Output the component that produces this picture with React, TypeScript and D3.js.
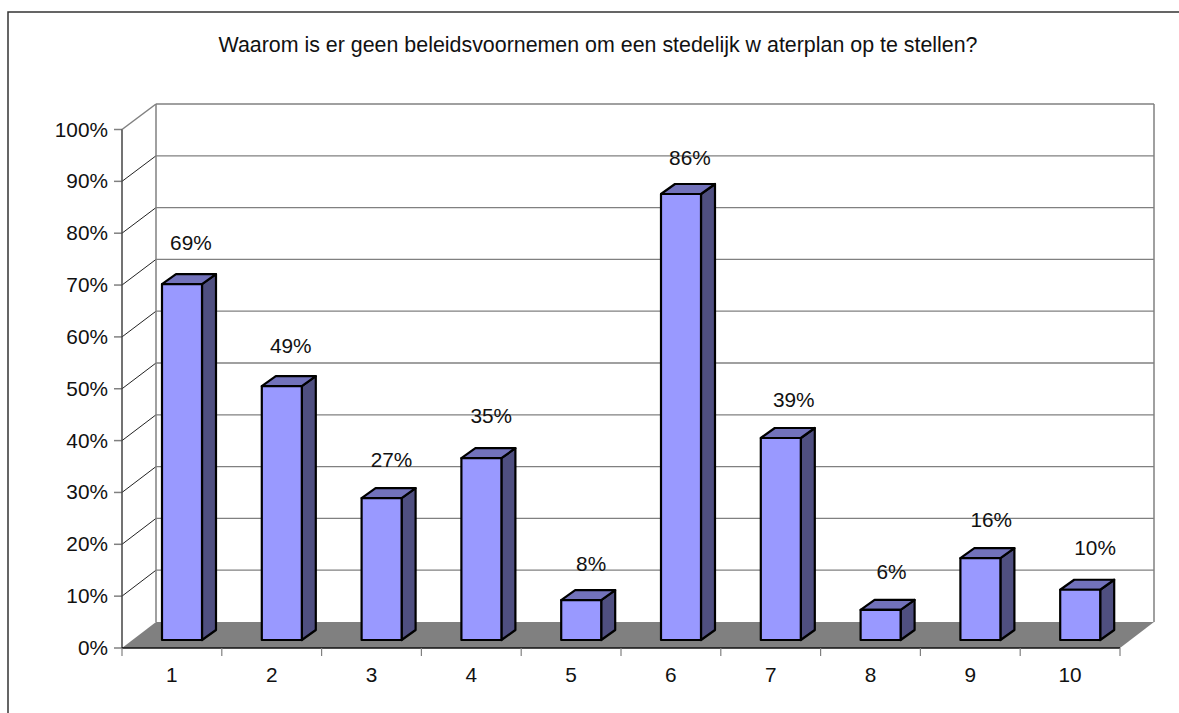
import React from "react";
import * as d3 from "d3";

const title = "Waarom is er geen beleidsvoornemen om een stedelijk w aterplan op te stellen?";
const categories = ["1", "2", "3", "4", "5", "6", "7", "8", "9", "10"];
const values = [68.7, 49, 27.4, 35.1, 7.7, 86.1, 39, 5.8, 15.8, 9.7];
const labelShiftX = [0, 0, 1, 1, 1, 0, 4, 2, 2, 6];
const labelShiftY = [-3, -2, 0, -4, 2, 2, 0, 0, 0, -4];
const yTicks = [0, 10, 20, 30, 40, 50, 60, 70, 80, 90, 100];

const W = 1179, H = 713;
const font = "'Liberation Sans', Arial, sans-serif";
const grey = "#808080";
const DX = 34;
const BDX = 14, BDY = 10;

export default function App() {
  const x = d3.scaleBand<string>().domain(categories).range([122, 1120]);
  const yFront = d3.scaleLinear().domain([0, 100]).range([648, 129.5]);
  const yBack = d3.scaleLinear().domain([0, 100]).range([622, 104]);
  const yBar = d3.scaleLinear().domain([0, 100]).range([640, 122]);
  const barW = 40;
  const x0 = x.range()[0], x1 = x.range()[1];
  const bx = x0 + DX, bx1 = x1 + DX;
  return (
    <svg width={W} height={H} viewBox={`0 0 ${W} ${H}`}
      style={{ position: "absolute", left: 0, top: 0, background: "#fff", fontFamily: font }}>
      {/* frame */}
      <path d={`M8 ${H} V12 H${W}`} fill="none" stroke="#333" strokeWidth={1.5} />
      <text x={598} y={52} textAnchor="middle" fontSize={21.4} fill="#111">{title}</text>

      {/* floor */}
      <path d={`M${x0} ${yFront(0)} L${bx} ${yBack(0)} H${bx1} L${x1} ${yFront(0)} Z`} fill={grey} />

      {/* walls and gridlines */}
      {yTicks.map((t) => (
        <g key={t}>
          <line x1={x0} y1={yFront(t)} x2={bx} y2={yBack(t)}
            stroke={t === 100 ? grey : t === 0 ? "none" : "#222"} strokeWidth={t === 100 ? 1.5 : 1} />
          {t > 0 && <line x1={bx} x2={bx1} y1={yBack(t)} y2={yBack(t)} stroke={grey} strokeWidth={1.3} />}
          <line x1={x0 - 8} x2={x0} y1={yFront(t)} y2={yFront(t)} stroke={grey} strokeWidth={1.5} />
          <text x={108} y={yFront(t) + 7} textAnchor="end" fontSize={20.8} fill="#111">{t}%</text>
        </g>
      ))}
      <line x1={bx} x2={bx} y1={yBack(100)} y2={yBack(0)} stroke={grey} strokeWidth={1.5} />
      <line x1={bx1} x2={bx1} y1={yBack(100)} y2={yBack(0)} stroke={grey} strokeWidth={1.5} />

      {/* axes */}
      <line x1={x0} x2={x0} y1={yFront(100)} y2={yFront(0)} stroke="#444" strokeWidth={1.5} />
      <line x1={x0} x2={x1} y1={yFront(0)} y2={yFront(0)} stroke="#111" strokeWidth={1.5} />
      {[...categories.map((c) => x(c)!), x1].map((p, i) => (
        <line key={i} x1={p} x2={p} y1={648} y2={656} stroke={grey} strokeWidth={1.2} />
      ))}
      {categories.map((c) => (
        <text key={c} x={x(c)! + x.bandwidth() / 2} y={682} textAnchor="middle" fontSize={20.8} fill="#111">{c}</text>
      ))}

      {/* bars */}
      {categories.map((c, i) => {
        const l = x(c)! + 40;
        const r = l + barW;
        const t = yBar(values[i]);
        const b = yBar(0);
        return (
          <g key={c} stroke="#000" strokeWidth={2.2} strokeLinejoin="round">
            <path d={`M${r} ${t} L${r + BDX} ${t - BDY} V${b - BDY} L${r} ${b} Z`} fill="#4f4f80" />
            <path d={`M${l} ${t} L${l + BDX} ${t - BDY} H${r + BDX} L${r} ${t} Z`} fill="#7272bb" />
            <rect x={l} y={t} width={barW} height={b - t} fill="#9999ff" />
          </g>
        );
      })}

      {/* data labels */}
      {categories.map((c, i) => (
        <text key={c} x={x(c)! + x.bandwidth() / 2 + 19 + labelShiftX[i]}
          y={yBar(values[i]) - 31 + labelShiftY[i]}
          textAnchor="middle" fontSize={20.8} fill="#111">{Math.round(values[i])}%</text>
      ))}
    </svg>
  );
}
